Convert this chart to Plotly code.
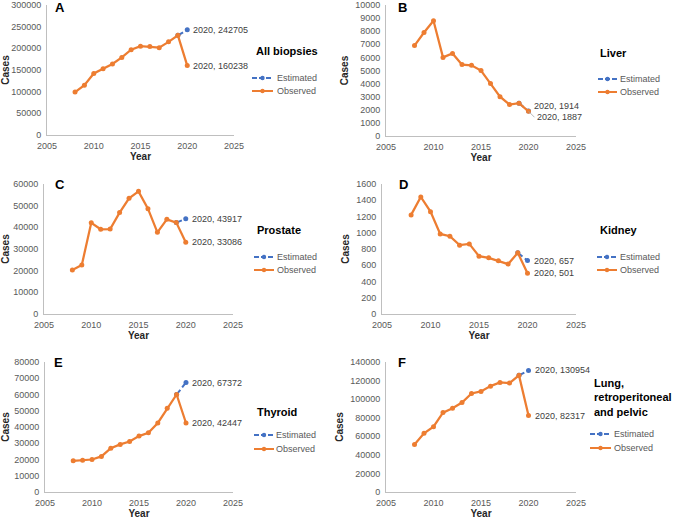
import plotly.graph_objects as go

W, H = 677, 523

years = [2008, 2009, 2010, 2011, 2012, 2013, 2014, 2015, 2016, 2017, 2018, 2019, 2020]

all_biopsies_obs = [99000, 115000, 142000, 153000, 164000, 179000, 197000, 205000, 204000, 201500, 215000, 230000, 160238]
all_biopsies_est = 242705
liver_obs = [6900, 7900, 8800, 6000, 6300, 5450, 5400, 5000, 4000, 3000, 2400, 2500, 1887]
liver_est = 1914
prostate_obs = [20300, 22600, 42100, 39100, 39200, 46800, 53400, 56600, 48600, 37700, 43700, 42200, 33086]
prostate_est = 43917
kidney_obs = [1220, 1440, 1260, 985, 957, 847, 863, 712, 691, 655, 614, 753, 501]
kidney_est = 657
thyroid_obs = [19200, 19600, 20000, 21900, 27000, 29300, 31100, 34400, 36500, 42500, 51500, 60000, 42447]
thyroid_est = 67372
lung_obs = [51200, 63200, 70400, 85500, 90200, 96400, 106100, 108300, 114000, 118000, 117300, 125600, 82317]
lung_est = 130954

panel_letters = ["A", "B", "C", "D", "E", "F"]
panel_titles = ["All biopsies", "Liver", "Prostate", "Kidney", "Thyroid",
                "Lung,<br>retroperitoneal<br>and pelvic"]
legend_labels = ["Estimated", "Observed"]
y_max = [300000, 10000, 60000, 1600, 80000, 140000]
y_dtick = [50000, 1000, 10000, 200, 10000, 20000]
x_range = [2005, 2025]

observed = [all_biopsies_obs, liver_obs, prostate_obs, kidney_obs, thyroid_obs, lung_obs]
estimated = [all_biopsies_est, liver_est, prostate_est, kidney_est, thyroid_est, lung_est]

ORANGE = "#ED7D31"
BLUE = "#4472C4"
FONT = "Liberation Sans, Arial, sans-serif"
TXT = "#404040"


def px_x(p):
    return p / W


def px_y(p):
    return 1 - p / H


# layout geometry in pixels: (x_left, x_right, y_top, y_bottom)
boxes = [
    (47, 234, 5, 135),
    (386, 576, 5, 136),
    (44, 233, 184, 314),
    (382, 576, 184, 314),
    (45, 233, 362, 492),
    (386, 576, 362, 492),
]
letter_pos = [(59.5, 7.5), (402, 7.5), (59.5, 184), (403, 185), (58.5, 362), (401.5, 362)]
title_pos = [(255, 51), (599, 53), (256, 230), (599, 230), (256, 412), (593, 397)]
# legend key: (line_x0, line_x1, text_x, row1_y, row2_y)
legend_geom = [
    (252, 273, 276, 78, 91),
    (598, 617, 619, 79, 92),
    (254, 274, 276, 257, 270),
    (597, 617, 619, 257, 270),
    (254, 274, 275, 435, 449),
    (590, 611, 613, 434, 448),
]

fig = go.Figure()
annotations = []
shapes = []
layout_axes = {}

for i in range(6):
    n = "" if i == 0 else str(i + 1)
    xa, ya = "x" + n, "y" + n
    obs = observed[i]
    est = estimated[i]

    fig.add_trace(go.Scatter(
        x=[years[-2], years[-1]], y=[obs[-2], est], name=legend_labels[0],
        mode="lines+markers", xaxis=xa, yaxis=ya, showlegend=False,
        line=dict(color=BLUE, width=2, dash="6px,3px"),
        marker=dict(color=BLUE, size=5), cliponaxis=False,
    ))
    fig.add_trace(go.Scatter(
        x=years, y=obs, name=legend_labels[1],
        mode="lines+markers", xaxis=xa, yaxis=ya, showlegend=False,
        line=dict(color=ORANGE, width=2.25),
        marker=dict(color=ORANGE, size=5), cliponaxis=False,
    ))

    xl, xr, yt, yb = boxes[i]
    axis_common = dict(showline=True, linecolor="#bfbfbf", linewidth=1, ticks="",
                       showgrid=False, zeroline=False, automargin=False,
                       tickfont=dict(family=FONT, size=9, color="#595959"))
    layout_axes["xaxis" + n] = dict(
        domain=[px_x(xl), px_x(xr)], range=x_range, dtick=5, tick0=2005,
        anchor=ya, title=dict(text="<b>Year</b>", standoff=2,
                              font=dict(family=FONT, size=10, color="#262626")),
        ticklabelstandoff=2, **axis_common)
    layout_axes["yaxis" + n] = dict(
        domain=[px_y(yb), px_y(yt)], range=[0, y_max[i]], dtick=y_dtick[i],
        tickformat="d", anchor=xa,
        title=dict(text="<b>Cases</b>", standoff=4,
                   font=dict(family=FONT, size=10, color="#262626")),
        ticklabelstandoff=3, **axis_common)

    # legend keys drawn as shapes + text
    lx0, lx1, ltx, r1, r2 = legend_geom[i]
    for (ry, col, dash, lab) in [(r1, BLUE, "5px,2px", legend_labels[0]),
                                 (r2, ORANGE, "solid", legend_labels[1])]:
        shapes.append(dict(type="line", xref="paper", yref="paper",
                           x0=px_x(lx0), x1=px_x(lx1), y0=px_y(ry), y1=px_y(ry),
                           line=dict(color=col, width=2, dash=dash)))
        cx = (lx0 + lx1) / 2
        shapes.append(dict(type="circle", xref="paper", yref="paper",
                           x0=px_x(cx - 2.2), x1=px_x(cx + 2.2),
                           y0=px_y(ry + 2.2), y1=px_y(ry - 2.2),
                           fillcolor=col, line=dict(width=0)))
        annotations.append(dict(text=lab, xref="paper", yref="paper",
                                x=px_x(ltx), y=px_y(ry), xanchor="left", yanchor="middle",
                                showarrow=False, borderpad=0,
                                font=dict(family=FONT, size=9, color="#595959")))

    # panel letter
    ax_, ay_ = letter_pos[i]
    annotations.append(dict(text="<b>%s</b>" % panel_letters[i], xref="paper", yref="paper",
                            x=px_x(ax_), y=px_y(ay_), xanchor="center", yanchor="middle",
                            showarrow=False, font=dict(family=FONT, size=13, color="#000000")))
    # panel title
    tx, ty = title_pos[i]
    annotations.append(dict(text="<b>%s</b>" % panel_titles[i], xref="paper", yref="paper",
                            x=px_x(tx), y=px_y(ty), xanchor="left", yanchor="middle",
                            align="left", showarrow=False, borderpad=0,
                            font=dict(family=FONT, size=11, color="#000000")))

    # data labels for 2020
    lab_font = dict(family=FONT, size=9, color=TXT)
    if i == 1:
        annotations.append(dict(text="%d, %d" % (years[-1], est), xref=xa, yref=ya,
                                x=years[-1], y=est, xanchor="left", yanchor="middle",
                                xshift=3, yshift=5, showarrow=False, font=lab_font))
        annotations.append(dict(text="%d, %d" % (years[-1], obs[-1]), xref=xa, yref=ya,
                                x=years[-1], y=obs[-1], xanchor="left", yanchor="middle",
                                showarrow=True, ax=6, ay=6, arrowhead=0, arrowwidth=0.8,
                                arrowcolor="#a6a6a6", font=lab_font))
    else:
        annotations.append(dict(text="%d, %d" % (years[-1], est), xref=xa, yref=ya,
                                x=years[-1], y=est, xanchor="left", yanchor="middle",
                                xshift=4, showarrow=False, font=lab_font))
        annotations.append(dict(text="%d, %d" % (years[-1], obs[-1]), xref=xa, yref=ya,
                                x=years[-1], y=obs[-1], xanchor="left", yanchor="middle",
                                xshift=4, showarrow=False, font=lab_font))

fig.update_layout(
    width=W, height=H, autosize=False,
    margin=dict(l=0, r=0, t=0, b=0),
    paper_bgcolor="white", plot_bgcolor="white",
    font=dict(family=FONT, size=9, color=TXT),
    showlegend=False,
    annotations=annotations,
    shapes=shapes,
    **layout_axes,
)

fig.write_html("out.html",
               config={"displayModeBar": False, "staticPlot": True},
               post_script="document.body.style.margin='0';document.body.style.overflow='hidden';")
